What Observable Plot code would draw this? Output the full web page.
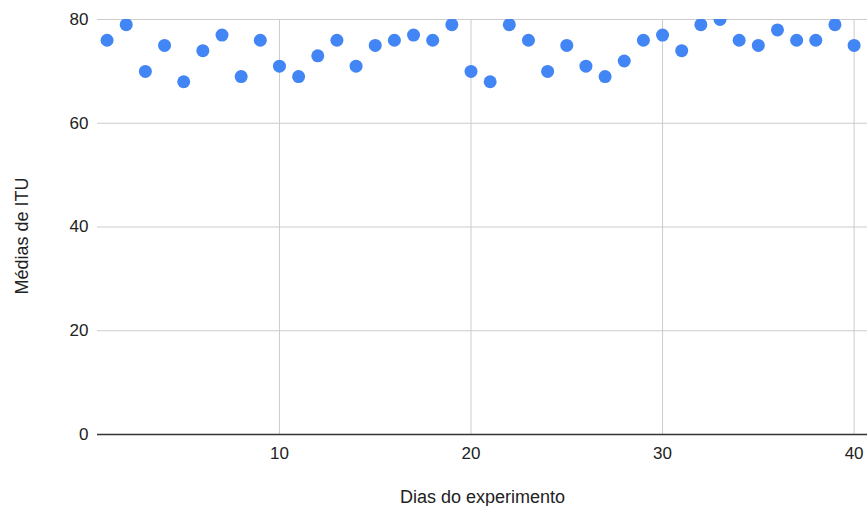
<!DOCTYPE html>
<html>
<head>
<meta charset="utf-8">
<script src="https://cdn.jsdelivr.net/npm/d3@7"></script>
<script src="https://cdn.jsdelivr.net/npm/@observablehq/plot@0.6"></script>
<style>
  body { margin: 0; background: #fff; }
  svg { font-family: Arial, "Liberation Sans", sans-serif; }
</style>
</head>
<body>
<div id="chart"></div>
<script>
const days = [1,2,3,4,5,6,7,8,9,10,11,12,13,14,15,16,17,18,19,20,21,22,23,24,25,26,27,28,29,30,31,32,33,34,35,36,37,38,39,40];
const itu  = [76,79,70,75,68,74,77,69,76,71,69,73,76,71,75,76,77,76,79,70,68,79,76,70,75,71,69,72,76,77,74,79,80,76,75,78,76,76,79,75];
const xTicks = [10, 20, 30, 40];
const yTicks = [0, 20, 40, 60, 80];
const xLabel = "Dias do experimento";
const yLabel = "Médias de ITU";

const data = days.map((d, i) => ({day: d, value: itu[i]}));

const chart = Plot.plot({
  width: 867,
  height: 506,
  marginLeft: 97,
  marginRight: 0,
  marginTop: 19,
  marginBottom: 72,
  style: {fontFamily: "Arial, 'Liberation Sans', sans-serif", fontSize: "17px", color: "#222", background: "#fff"},
  x: {domain: [0.5, 40.7], label: null},
  y: {domain: [0, 80], label: null},
  marks: [
    Plot.gridX(xTicks, {stroke: "#cccccc", strokeOpacity: 1}),
    Plot.gridY(yTicks.filter(t => t > 0), {stroke: "#cccccc", strokeOpacity: 1}),
    Plot.ruleY([0], {stroke: "#333333", strokeWidth: 1.5}),
    Plot.axisX(xTicks, {tickSize: 0, tickPadding: 12, fontSize: 17, fill: "#222", label: null}),
    Plot.axisX({tickSize: 0, ticks: [], label: xLabel, labelAnchor: "center", labelOffset: 68, labelArrow: false, fontSize: 18, fill: "#222"}),
    Plot.axisY(yTicks, {tickSize: 0, tickPadding: 9, fontSize: 17, fill: "#222", label: null}),
    Plot.text([yLabel], {frameAnchor: "left", rotate: -90, dx: -75, dy: 9, textAnchor: "middle", lineAnchor: "middle", fontSize: 18, fill: "#222"}),
    Plot.dot(data, {x: "day", y: "value", r: 6.5, fill: "#4285F4", stroke: "none", clip: true})
  ]
});
document.getElementById("chart").appendChild(chart);
</script>
</body>
</html>
